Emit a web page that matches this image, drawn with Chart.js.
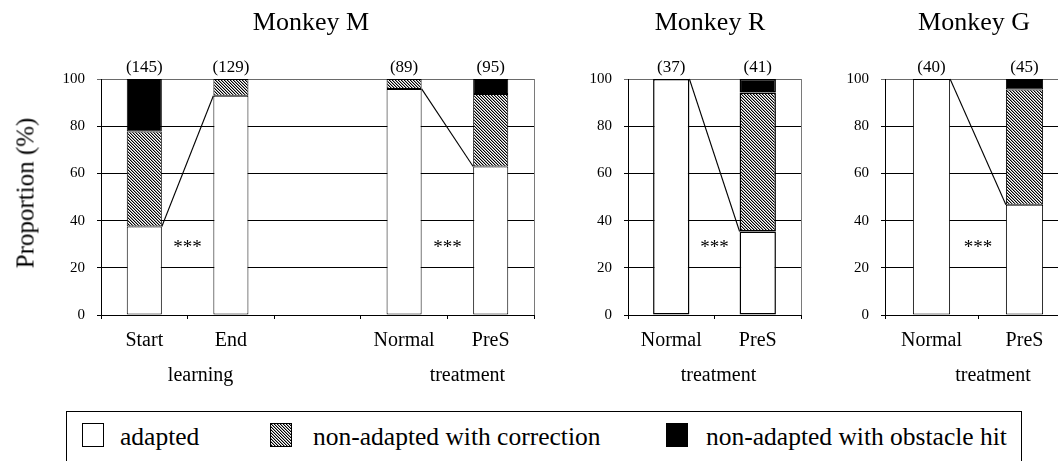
<!DOCTYPE html>
<html><head><meta charset="utf-8">
<script src="https://cdn.jsdelivr.net/npm/chart.js@4.4.1/dist/chart.umd.min.js"></script>
<style>
html,body{margin:0;padding:0;background:#fff;overflow:hidden;}
#wrap{position:relative;width:1058px;height:461px;overflow:hidden;font-family:"Liberation Serif","Times New Roman",serif;color:#000;background:#fff;}
canvas{position:absolute;top:0;}
.t{position:absolute;white-space:nowrap;line-height:1;font-family:"Liberation Serif","Times New Roman",serif;}
#legend{position:absolute;left:66px;top:411px;width:956px;height:80px;border:1px solid #000;box-sizing:border-box;}
.sw{position:absolute;top:11px;width:22px;height:24px;border:1px solid #000;box-sizing:border-box;}
.lt{position:absolute;top:12px;font-size:25.5px;line-height:1;white-space:nowrap;font-family:"Liberation Serif","Times New Roman",serif;}
</style></head><body>
<div id="wrap">
  <canvas id="cM" style="left:0px" width="560" height="400"></canvas>
  <canvas id="cR" style="left:560px" width="260" height="400"></canvas>
  <canvas id="cG" style="left:820px" width="280" height="400"></canvas>
  <div class="t" style="left:311px;top:9px;font-size:26px;transform:translateX(-50%)">Monkey M</div>
  <div class="t" style="left:710px;top:9px;font-size:26px;transform:translateX(-50%)">Monkey R</div>
  <div class="t" style="left:974px;top:9px;font-size:26px;transform:translateX(-50%)">Monkey G</div>
  <div class="t" style="left:25px;top:193px;font-size:25px;transform:translate(-50%,-50%) rotate(-90deg)">Proportion (%)</div>
  <div id="legend">
    <span class="sw" id="sw0" style="left:15px;background:#fff"></span><span class="lt" style="left:53px">adapted</span>
    <span class="sw" id="sw1" style="left:203px"></span><span class="lt" style="left:246px">non-adapted with correction</span>
    <span class="sw" id="sw2" style="left:599px;background:#000"></span><span class="lt" style="left:639px">non-adapted with obstacle hit</span>
  </div>
</div>
<script>
// ---- data ----
const catsM = ['Start', 'End', '', 'Normal', 'PreS'];
const adaptedM = [37.5, 92.9, null, 95.8, 62.9];
const correctionM = [40.3, 7.1, null, 4.2, 30.7];
const hitM = [22.2, null, null, null, 6.4];
const nM = ['(145)', '(129)', '', '(89)', '(95)'];

const catsR = ['Normal', 'PreS'];
const adaptedR = [100, 35.4];
const correctionR = [null, 58.9];
const hitR = [null, 5.7];
const nR = ['(37)', '(41)'];

const catsG = ['Normal', 'PreS'];
const adaptedG = [100, 46.7];
const correctionG = [null, 48.9];
const hitG = [null, 4.4];
const nG = ['(40)', '(45)'];

const yTickValues = [0, 20, 40, 60, 80, 100];
const seriesNames = ['adapted', 'non-adapted with correction', 'non-adapted with obstacle hit'];

// ---- hatch pattern ----
const pc = document.createElement('canvas');
pc.width = 3; pc.height = 3;
const pctx = pc.getContext('2d');
pctx.fillStyle = '#fff'; pctx.fillRect(0, 0, 3, 3);
for (let i = 0; i < 3; i++) {
  pctx.fillStyle = '#000'; pctx.fillRect(i, i, 1, 1);
  pctx.fillStyle = '#9a9a9a'; pctx.fillRect((i + 1) % 3, i, 1, 1);
}
const hatch = pctx.createPattern(pc, 'repeat');
document.getElementById('sw1').style.background = 'url(' + pc.toDataURL() + ')';

const FONT = '"Liberation Serif", "Times New Roman", serif';

const annot = {
  id: 'annot',
  afterDatasetsDraw(chart, args, opts) {
    const ctx = chart.ctx;
    const xs = chart.scales.x, ys = chart.scales.y;
    const ca = chart.chartArea;
    const m0 = chart.getDatasetMeta(0);
    ctx.save();
    // right border
    ctx.strokeStyle = '#7a7a7a'; ctx.lineWidth = 1;
    const rx = Math.round(ca.right) + 0.5;
    ctx.beginPath(); ctx.moveTo(rx, ca.top); ctx.lineTo(rx, ca.bottom); ctx.stroke();
    // connecting lines and stars
    ctx.strokeStyle = '#000'; ctx.fillStyle = '#000'; ctx.lineWidth = 1.1;
    opts.pairs.forEach(([a, b]) => {
      const ea = m0.data[a], eb = m0.data[b];
      ctx.beginPath();
      ctx.moveTo(ea.x + ea.width / 2, ea.y);
      ctx.lineTo(eb.x - eb.width / 2, eb.y);
      ctx.stroke();
      ctx.font = '19px ' + FONT;
      ctx.textAlign = 'center'; ctx.textBaseline = 'alphabetic';
      ctx.fillText('***', (ea.x + eb.x) / 2, ys.getPixelForValue(30) + 9);
    });
    // N labels
    ctx.font = '17px ' + FONT;
    ctx.textAlign = 'center'; ctx.textBaseline = 'alphabetic';
    opts.n.forEach((t, i) => { if (t) ctx.fillText(t, xs.getPixelForValue(i), ca.top - 7); });
    // group labels
    ctx.font = '20px ' + FONT;
    opts.groups.forEach(g => {
      const x = (xs.getPixelForValue(g.from) + xs.getPixelForValue(g.to)) / 2 + g.dx;
      ctx.fillText(g.text, x, 381);
    });
    ctx.restore();
  }
};

function makeChart(id, cats, adapted, corr, hit, n, cfg) {
  const ctx = document.getElementById(id).getContext('2d');
  const ds = (label, data, bg) => ({
    label, data, backgroundColor: bg, borderColor: '#000', borderWidth: cfg.bw,
    borderSkipped: false, barPercentage: cfg.bar, categoryPercentage: 1
  });
  return new Chart(ctx, {
    type: 'bar',
    data: {
      labels: cats,
      datasets: [
        ds(seriesNames[0], adapted, '#fff'),
        ds(seriesNames[1], corr, hatch),
        ds(seriesNames[2], hit, '#000')
      ]
    },
    plugins: [annot],
    options: {
      responsive: false, animation: false, devicePixelRatio: 1,
      layout: { padding: { top: 79, right: cfg.padRight, left: 0, bottom: 0 } },
      plugins: {
        legend: { display: false }, tooltip: { enabled: false },
        annot: { n, pairs: cfg.pairs, groups: cfg.groups }
      },
      scales: {
        x: {
          stacked: true, offset: true,
          grid: { display: true, offset: true, drawOnChartArea: false, drawTicks: true, tickLength: 4, color: '#000' },
          border: { display: true, color: '#000', width: 1 },
          ticks: { color: '#000', font: { family: FONT, size: 20 }, padding: 10, maxRotation: 0, autoSkip: false },
          afterFit(s) { s.height = 85; }
        },
        y: {
          stacked: true, min: 0, max: 100,
          afterBuildTicks(s) { s.ticks = yTickValues.map(v => ({ value: v })); },
          grid: { color: c => (c.tick && c.tick.value === 100) ? '#6a6a6a' : '#000', tickLength: 4, lineWidth: 1 },
          border: { display: true, color: '#000', width: 1 },
          ticks: { color: '#000', font: { family: FONT, size: 15 }, padding: 12 },
          afterFit(s) { s.width = cfg.yWidth; }
        }
      }
    }
  });
}

makeChart('cM', catsM, adaptedM, correctionM, hitM, nM, {
  yWidth: 101, padRight: 26, bar: 0.405, bw: 1,
  pairs: [[0, 1], [3, 4]],
  groups: [{ text: 'learning', from: 0, to: 1, dx: 13 }, { text: 'treatment', from: 3, to: 4, dx: 20 }]
});
makeChart('cR', catsR, adaptedR, correctionR, hitR, nR, {
  yWidth: 68, padRight: 19, bar: 0.42, bw: 1.5,
  pairs: [[0, 1]],
  groups: [{ text: 'treatment', from: 0, to: 1, dx: 4 }]
});
makeChart('cG', catsG, adaptedG, correctionG, hitG, nG, {
  yWidth: 65, padRight: 29, bar: 0.4, bw: 1,
  pairs: [[0, 1]],
  groups: [{ text: 'treatment', from: 0, to: 1, dx: 15 }]
});
</script>
</body></html>
